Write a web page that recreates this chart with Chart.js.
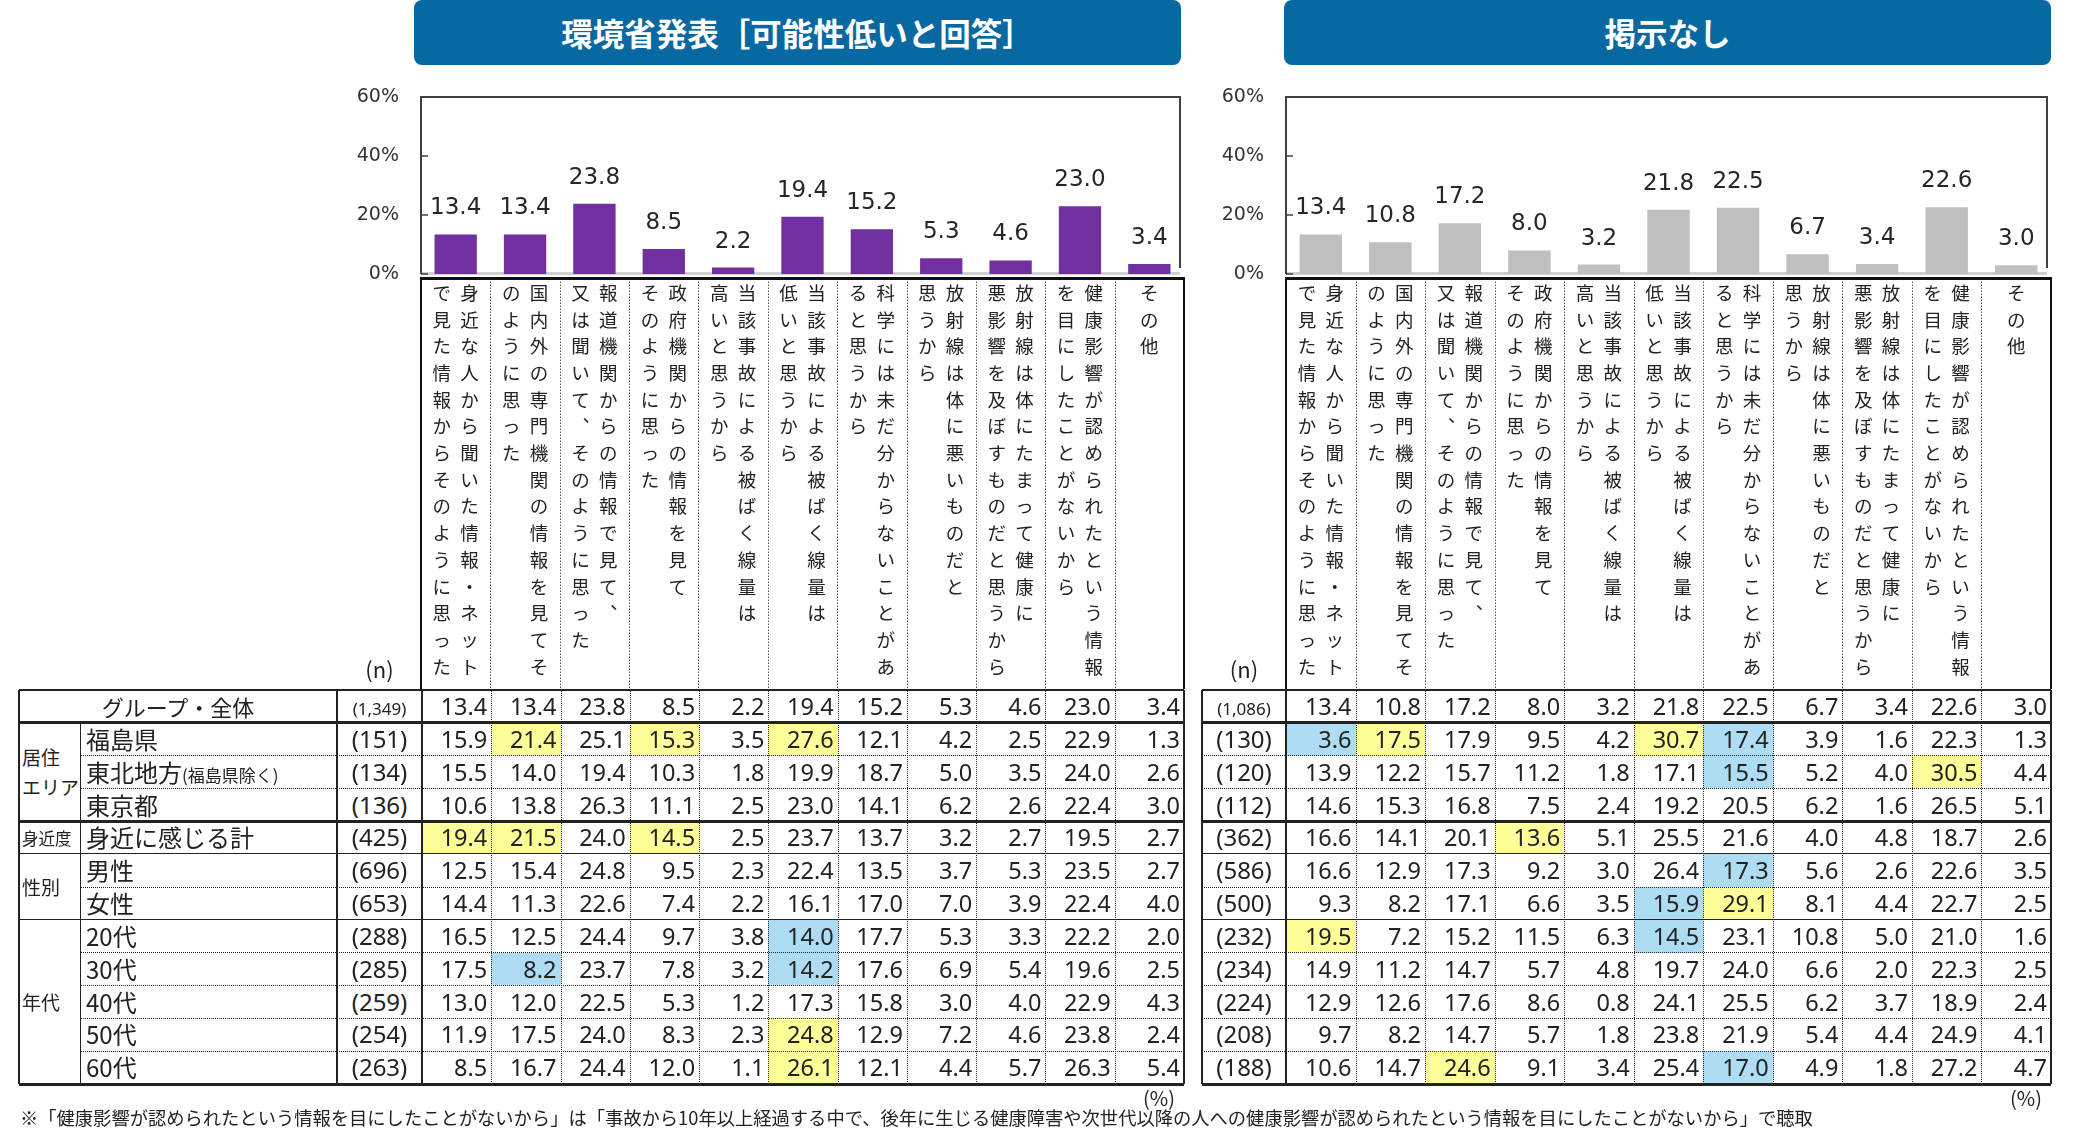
<!DOCTYPE html>
<html lang="ja">
<head>
<meta charset="utf-8">
<script src="https://cdn.jsdelivr.net/npm/chart.js@4.4.1/dist/chart.umd.min.js"></script>
<style>
  body { margin:0; background:#fff; width:2080px; height:1137px; overflow:hidden; position:relative;
         font-family:"Noto Sans CJK JP","Noto Sans",sans-serif; color:#222; }
  .head { position:absolute; top:0; height:65px; background:#0868a2; color:#fff; font-weight:bold;
          font-size:31.5px; line-height:64px; text-align:center; border-radius:8px; }
  .box { position:absolute; }
  .cell { position:absolute; box-sizing:border-box; white-space:nowrap; }
  .num { font-family:"Noto Sans",sans-serif; font-size:23.5px; text-align:right; padding-right:4px; }
  .txt { position:absolute; white-space:nowrap; }
</style>
</head>
<body>
<div class="head" style="left:414px;width:767px">環境省発表［可能性低いと回答］</div>
<div class="head" style="left:1284px;width:767px">掲示なし</div>
<div class="box" style="left:300px;top:60px;width:890px;height:632px"><canvas id="Graph_kankyo" width="890" height="632"></canvas></div>
<div class="box" style="left:1166px;top:60px;width:891px;height:632px"><canvas id="Graph_nashi" width="891" height="632"></canvas></div>
<div id="tables"></div>
<div class="txt" style="left:20px;top:1104px;font-size:18.3px">※「健康影響が認められたという情報を目にしたことがないから」は「事故から10年以上経過する中で、後年に生じる健康障害や次世代以降の人への健康影響が認められたという情報を目にしたことがないから」で聴取</div>
<script>
// category labels, written as [right column, left column] of the vertical text
var categories = [
  ['身近な人から聞いた情報・ネット', 'で見た情報からそのように思った'],
  ['国内外の専門機関の情報を見てそ', 'のように思った'],
  ['報道機関からの情報で見て、', '又は聞いて、そのように思った'],
  ['政府機関からの情報を見て', 'そのように思った'],
  ['当該事故による被ばく線量は', '高いと思うから'],
  ['当該事故による被ばく線量は', '低いと思うから'],
  ['科学には未だ分からないことがあ', 'ると思うから'],
  ['放射線は体に悪いものだと', '思うから'],
  ['放射線は体にたまって健康に', '悪影響を及ぼすものだと思うから'],
  ['健康影響が認められたという情報', 'を目にしたことがないから'],
  ['その他']
];

var rowLabels = ['グループ・全体', '福島県', '東北地方', '東京都', '身近に感じる計', '男性', '女性', '20代', '30代', '40代', '50代', '60代'];
var nKankyo = ['1,349', '151', '134', '136', '425', '696', '653', '288', '285', '259', '254', '263'];
var nNashi = ['1,086', '130', '120', '112', '362', '586', '500', '232', '234', '224', '208', '188'];

var tableKankyo = [
  [13.4, 13.4, 23.8, 8.5, 2.2, 19.4, 15.2, 5.3, 4.6, 23.0, 3.4],
  [15.9, 21.4, 25.1, 15.3, 3.5, 27.6, 12.1, 4.2, 2.5, 22.9, 1.3],
  [15.5, 14.0, 19.4, 10.3, 1.8, 19.9, 18.7, 5.0, 3.5, 24.0, 2.6],
  [10.6, 13.8, 26.3, 11.1, 2.5, 23.0, 14.1, 6.2, 2.6, 22.4, 3.0],
  [19.4, 21.5, 24.0, 14.5, 2.5, 23.7, 13.7, 3.2, 2.7, 19.5, 2.7],
  [12.5, 15.4, 24.8, 9.5, 2.3, 22.4, 13.5, 3.7, 5.3, 23.5, 2.7],
  [14.4, 11.3, 22.6, 7.4, 2.2, 16.1, 17.0, 7.0, 3.9, 22.4, 4.0],
  [16.5, 12.5, 24.4, 9.7, 3.8, 14.0, 17.7, 5.3, 3.3, 22.2, 2.0],
  [17.5, 8.2, 23.7, 7.8, 3.2, 14.2, 17.6, 6.9, 5.4, 19.6, 2.5],
  [13.0, 12.0, 22.5, 5.3, 1.2, 17.3, 15.8, 3.0, 4.0, 22.9, 4.3],
  [11.9, 17.5, 24.0, 8.3, 2.3, 24.8, 12.9, 7.2, 4.6, 23.8, 2.4],
  [8.5, 16.7, 24.4, 12.0, 1.1, 26.1, 12.1, 4.4, 5.7, 26.3, 5.4]
];
var tableNashi = [
  [13.4, 10.8, 17.2, 8.0, 3.2, 21.8, 22.5, 6.7, 3.4, 22.6, 3.0],
  [3.6, 17.5, 17.9, 9.5, 4.2, 30.7, 17.4, 3.9, 1.6, 22.3, 1.3],
  [13.9, 12.2, 15.7, 11.2, 1.8, 17.1, 15.5, 5.2, 4.0, 30.5, 4.4],
  [14.6, 15.3, 16.8, 7.5, 2.4, 19.2, 20.5, 6.2, 1.6, 26.5, 5.1],
  [16.6, 14.1, 20.1, 13.6, 5.1, 25.5, 21.6, 4.0, 4.8, 18.7, 2.6],
  [16.6, 12.9, 17.3, 9.2, 3.0, 26.4, 17.3, 5.6, 2.6, 22.6, 3.5],
  [9.3, 8.2, 17.1, 6.6, 3.5, 15.9, 29.1, 8.1, 4.4, 22.7, 2.5],
  [19.5, 7.2, 15.2, 11.5, 6.3, 14.5, 23.1, 10.8, 5.0, 21.0, 1.6],
  [14.9, 11.2, 14.7, 5.7, 4.8, 19.7, 24.0, 6.6, 2.0, 22.3, 2.5],
  [12.9, 12.6, 17.6, 8.6, 0.8, 24.1, 25.5, 6.2, 3.7, 18.9, 2.4],
  [9.7, 8.2, 14.7, 5.7, 1.8, 23.8, 21.9, 5.4, 4.4, 24.9, 4.1],
  [10.6, 14.7, 24.6, 9.1, 3.4, 25.4, 17.0, 4.9, 1.8, 27.2, 4.7]
];

// [row, column] of marked cells
var yellowKankyo = [[1, 1], [1, 3], [1, 5], [4, 0], [4, 1], [4, 3], [10, 5], [11, 5]];
var blueKankyo = [[7, 5], [8, 1], [8, 5]];
var yellowNashi = [[1, 1], [1, 5], [2, 9], [4, 3], [6, 6], [7, 0], [11, 2]];
var blueNashi = [[1, 0], [1, 6], [2, 6], [5, 6], [6, 5], [7, 5], [11, 6]];

// vertical text -> lines of "left right" character pairs
function verticalLabel(cols) {
  var right = Array.from(cols[0].replace(/、/g, '︑'));
  if (cols.length < 2) return right;
  var left = Array.from(cols[1].replace(/、/g, '︑'));
  var lines = [];
  for (var i = 0; i < Math.max(left.length, right.length); i++) {
    lines.push((left[i] || '\u3000') + '\u2002' + (right[i] || '\u3000'));
  }
  return lines;
}
var labels = categories.map(verticalLabel);

function line(ctx, x0, y0, x1, y1) {
  ctx.beginPath(); ctx.moveTo(x0, y0); ctx.lineTo(x1, y1); ctx.stroke();
}

var frame = {
  id: 'frame',
  beforeDatasetsDraw: function(chart) {
    var ctx = chart.ctx, a = chart.chartArea, y = chart.scales.y;
    ctx.save();
    ctx.strokeStyle = '#d0d0d0'; ctx.lineWidth = 3;
    line(ctx, a.left, a.bottom - 0.5, a.right - 4, a.bottom - 0.5);
    ctx.strokeStyle = '#404040'; ctx.lineWidth = 2;
    ctx.beginPath();
    ctx.moveTo(a.left, a.bottom); ctx.lineTo(a.left, a.top);
    ctx.lineTo(a.right - 4, a.top); ctx.lineTo(a.right - 4, a.bottom - 6);
    ctx.stroke();
    ctx.lineWidth = 1.5;
    y.ticks.forEach(function(t) {
      var p = y.getPixelForValue(t.value);
      line(ctx, a.left, p, a.left + 7, p);
    });
    ctx.restore();
  },
  afterDraw: function(chart) {
    var ctx = chart.ctx, a = chart.chartArea, x = chart.scales.x;
    var top = x.top + 4.5, bottom = x.bottom;
    ctx.save();
    ctx.strokeStyle = '#555'; ctx.lineWidth = 1;
    ctx.setLineDash([1.5, 1.5]);
    for (var i = 1; i < chart.data.labels.length; i++) {
      var px = Math.round((x.getPixelForTick(i - 1) + x.getPixelForTick(i)) / 2) + 0.5;
      line(ctx, px, top, px, bottom);
    }
    ctx.setLineDash([]);
    ctx.strokeStyle = '#111'; ctx.lineWidth = 2;
    line(ctx, a.left, top, a.left, bottom);
    line(ctx, a.right, top, a.right, bottom);
    ctx.lineWidth = 3;
    line(ctx, a.left - 1, top, a.right + 1, top);
    ctx.restore();
  }
};

var valueLabels = {
  id: 'valueLabels',
  afterDatasetsDraw: function(chart) {
    var ctx = chart.ctx;
    var values = chart.data.datasets[0].data;
    ctx.save();
    ctx.font = '23px "DejaVu Sans"';
    ctx.fillStyle = '#262626';
    ctx.textAlign = 'center';
    ctx.textBaseline = 'alphabetic';
    chart.getDatasetMeta(0).data.forEach(function(bar, i) {
      ctx.fillText(values[i].toFixed(1), bar.x, bar.y - 20);
    });
    ctx.restore();
  }
};

function makeChart(id, values, color, yWidth) {
  return new Chart(document.getElementById(id).getContext('2d'), {
    type: 'bar',
    data: {
      labels: labels,
      datasets: [{ data: values, backgroundColor: color, borderWidth: 0,
                   barPercentage: 0.61, categoryPercentage: 1 }]
    },
    options: {
      responsive: false, animation: false, devicePixelRatio: 1,
      layout: { padding: { top: 37, right: 6, bottom: 3, left: 0 } },
      plugins: { legend: { display: false }, tooltip: { enabled: false } },
      scales: {
        x: {
          grid: { display: false, drawTicks: false }, border: { display: false },
          ticks: { autoSkip: false, maxRotation: 0, minRotation: 0, padding: 5.5, color: '#222',
                   font: { family: '"Noto Sans CJK JP"', size: 18.5, lineHeight: 1.443 } },
          afterFit: function(s) { s.height = 415; s.paddingLeft = 0; s.paddingRight = 0; }
        },
        y: {
          min: 0, max: 60,
          grid: { display: false, drawTicks: false }, border: { display: false },
          ticks: { stepSize: 20, padding: 22, color: '#333', font: { family: 'DejaVu Sans', size: 19 },
                   callback: function(v) { return v + '%'; } },
          afterFit: function(s) { s.width = yWidth; s.paddingTop = 0; s.paddingBottom = 0; }
        }
      }
    },
    plugins: [frame, valueLabels]
  });
}

var Graph_kankyo = makeChart('Graph_kankyo', tableKankyo[0], '#7030a0', 121);
var Graph_nashi = makeChart('Graph_nashi', tableNashi[0], '#bfbfbf', 120);

// ---- tables below the charts ----
var holder = document.getElementById('tables');
function edges(x0, x1, n) {
  var e = [];
  for (var i = 0; i <= n; i++) e.push(x0 + (x1 - x0) * i / n);
  return e;
}
var rowEdges = edges(690, 1084, 12);

function div(css, text, cls) {
  var d = document.createElement('div');
  d.className = cls || 'cell';
  d.style.cssText = css;
  if (text !== undefined) d.innerHTML = text;
  holder.appendChild(d);
  return d;
}
function rect(x0, x1, y0, y1) {
  return 'left:' + x0 + 'px;top:' + y0 + 'px;width:' + (x1 - x0) + 'px;height:' + (y1 - y0) + 'px;';
}
function hline(x0, x1, y, w, style) {
  div('left:' + x0 + 'px;top:' + (y - w / 2) + 'px;width:' + (x1 - x0) + 'px;height:0;border-top:' + w + 'px ' + style + ' #222;');
}
function vline(x, y0, y1, w, style) {
  div('left:' + (x - w / 2) + 'px;top:' + y0 + 'px;width:0;height:' + (y1 - y0) + 'px;border-left:' + w + 'px ' + style + ' #222;');
}

// line under row k-1 / above row k
var rowRules = ['solid2', 'thick', 'dot', 'dot', 'thick', 'solid', 'dot', 'solid', 'dot', 'dot', 'dot', 'dot', 'thick'];

function drawTable(t) {
  var dx = edges(t.nEnd, t.right, 11);
  t.yellow.forEach(function(p) { div(rect(dx[p[1]], dx[p[1] + 1], rowEdges[p[0]], rowEdges[p[0] + 1]) + 'background:#ffff99;'); });
  t.blue.forEach(function(p) { div(rect(dx[p[1]], dx[p[1] + 1], rowEdges[p[0]], rowEdges[p[0] + 1]) + 'background:#addcf3;'); });

  for (var r = 0; r < 12; r++) {
    var y0 = rowEdges[r], y1 = rowEdges[r + 1], lh = 'line-height:' + (y1 - y0) + 'px;';
    var nTxt = r === 0 ? '<span style="font-size:17px">(' + t.n[r] + ')</span>' : '(' + t.n[r] + ')';
    div(rect(t.nStart, t.nEnd, y0, y1) + lh + 'text-align:center;font-family:"Noto Sans";font-size:24px;', nTxt);
    for (var c = 0; c < 11; c++) {
      div(rect(dx[c], dx[c + 1], y0, y1) + lh, t.data[r][c].toFixed(1), 'cell num');
    }
  }

  // horizontal rules
  for (var k = 0; k <= 12; k++) {
    var rule = rowRules[k], y = rowEdges[k];
    if (rule === 'dot') hline(t.dotStart, t.right, y, 1, 'dotted');
    else if (rule === 'thick') hline(t.left, t.right, y, 3, 'solid');
    else if (rule === 'solid2') hline(t.left, t.right, y, 2, 'solid');
    else hline(t.left, t.right, y, 1.5, 'solid');
  }
  // vertical rules
  vline(t.left, 690, 1084, 2, 'solid');
  vline(t.nStart, 690, 1084, 2, 'solid');
  vline(t.nEnd, 690, 1084, 2, 'solid');
  for (var j = 1; j < 11; j++) vline(Math.round(dx[j]) + 0.5, 690, 1084, 1, 'dotted');
  vline(t.right, 690, 1084, 2, 'solid');

  div('left:' + t.nStart + 'px;top:652px;width:' + (t.nEnd - t.nStart) + 'px;text-align:center;font-size:22px;', '(n)', 'txt');
  div('left:' + (t.right - 60) + 'px;top:1083px;width:70px;text-align:center;font-size:20px;', '(%)', 'txt');
}

// row and group labels of the left table
var groupCol = [19, 81], labelCol = [81, 337];
div(rect(groupCol[0], labelCol[1], rowEdges[0], rowEdges[1]) + 'line-height:' + (rowEdges[1] - rowEdges[0]) + 'px;text-align:center;font-size:22px;', rowLabels[0]);
for (var r = 1; r < 12; r++) {
  var txt = rowLabels[r];
  if (r === 2) txt += '<span style="font-size:17px">(福島県除く)</span>';
  div(rect(labelCol[0] + 5, labelCol[1], rowEdges[r], rowEdges[r + 1]) + 'line-height:' + (rowEdges[r + 1] - rowEdges[r]) + 'px;font-size:24px;', txt);
}
var groups = [['居住<br>エリア', 1, 3, 19], ['身近度', 4, 4, 16.5], ['性別', 5, 6, 19], ['年代', 7, 11, 19]];
groups.forEach(function(g) {
  var y0 = rowEdges[g[1]], y1 = rowEdges[g[2] + 1];
  div(rect(groupCol[0] + 3, groupCol[1], y0, y1) + 'display:flex;align-items:center;white-space:normal;line-height:30px;font-size:' + g[3] + 'px;', '<div>' + g[0] + '</div>');
});
vline(groupCol[1], rowEdges[1], rowEdges[12], 1.5, 'solid');

drawTable({ left: 19, nStart: 337, nEnd: 422, right: 1184, dotStart: 81,
            n: nKankyo, data: tableKankyo, yellow: yellowKankyo, blue: blueKankyo });
drawTable({ left: 1202, nStart: 1202, nEnd: 1286, right: 2051, dotStart: 1202,
            n: nNashi, data: tableNashi, yellow: yellowNashi, blue: blueNashi });
</script>
</body>
</html>
